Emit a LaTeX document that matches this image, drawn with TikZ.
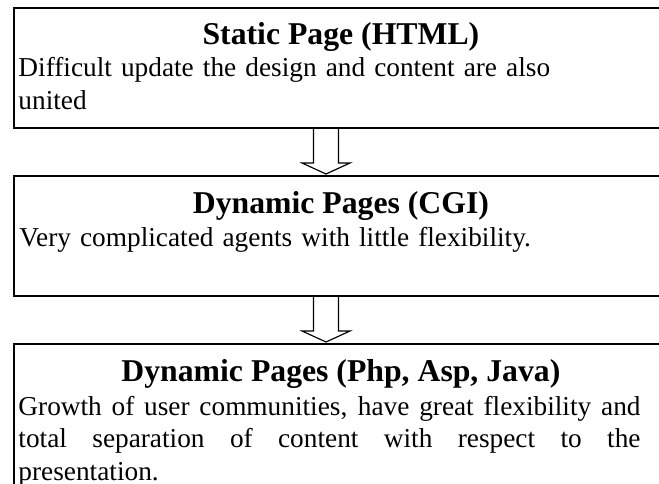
\documentclass[tikz,border=0pt]{standalone}
\usepackage{fontspec}
\setmainfont{Liberation Serif}
\usetikzlibrary{calc}

\begin{document}
\begin{tikzpicture}[x=0.4286pt, y=-0.4286pt,
	box/.style={draw, line width=0.8pt, anchor=north west, minimum width=280.3pt, inner sep=0pt},
	title/.style={font=\fontsize{13.6}{16}\selectfont\bfseries, anchor=base, inner sep=0pt},
	body/.style={font=\fontsize{11.7}{13.8}\selectfont, anchor=base west, inner sep=0pt, text width=266.6pt},
	blockarrow/.style={draw, line width=0.5pt}]
	\useasboundingbox (0,0) rectangle (659,483);
	\clip (0,0) rectangle (659,483);
	% the three stages
	\node[box, minimum height=51.4pt] (static) at (13,7) {};
	\node[box, minimum height=51.4pt] (cgi) at (13,175) {};
	\node[box, minimum height=70pt] (php) at (13,343) {};
	% titles
	\node[title] (statictitle) at ($(static.north)+(0,38)$) {Static Page (HTML)};
	\node[title] (cgititle) at ($(cgi.north)+(0,38)$) {Dynamic Pages (CGI)};
	\node[title] (phptitle) at ($(php.north)+(0,38)$) {Dynamic Pages (Php, Asp, Java)};
	% body texts
	\node[body, align=left] (statictext) at ($(static.north west)+(5,70)$) {Difficult update the design and content are also\\united};
	\node[body, align=left] (cgitext) at ($(cgi.north west)+(6,71)$) {Very complicated agents with little flexibility.};
	\node[body, align=justify, font=\fontsize{11.7}{14.1}\selectfont] (phptext) at ($(php.north west)+(5,72)$) {Growth of user communities, have great flexibility and\linebreak total separation of content with respect to the\linebreak presentation.};
	% arrows between the stages
	\foreach \a/\b in {static/cgi, cgi/php}
	{
		\draw[blockarrow] ($(\a.south west)+(300.5,0)$) -- ($(\b.north west)+(300.5,-12)$) -- ($(\b.north west)+(289,-12)$) -- ($(\b.north west)+(313,-1)$) -- ($(\b.north west)+(337,-12)$) -- ($(\b.north west)+(325.5,-12)$) -- ($(\a.south west)+(325.5,0)$);
	}
\end{tikzpicture}
\end{document}
